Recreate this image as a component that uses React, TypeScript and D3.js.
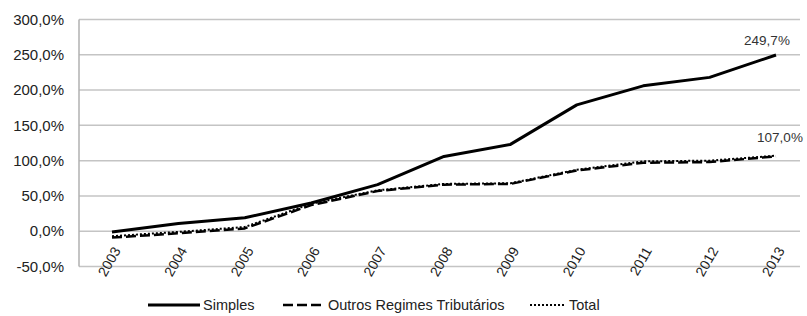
import * as d3 from "d3";

const years = ["2003", "2004", "2005", "2006", "2007", "2008", "2009", "2010", "2011", "2012", "2013"];
const simples = [-1, 11, 19, 40, 66, 106, 123, 179, 206, 218, 249.7];
const outros = [-9, -3, 4, 37, 57, 66, 67, 86, 97, 98, 106];
const total = [-7, -1, 6, 39, 58, 67, 68, 87, 99, 100, 107];
const yTicks = [-50, 0, 50, 100, 150, 200, 250, 300];

const W = 807;
const H = 316;
const plot = { left: 79, right: 800, top: 19.5, bottom: 266.5, first: 112, last: 776 };
const font = "'Liberation Sans', Arial, sans-serif";

const fmt = (v: number) => v.toFixed(1).replace(".", ",") + "%";

export default function App() {
  const x = d3.scalePoint<string>().domain(years).range([plot.first, plot.last]);
  const y = d3.scaleLinear().domain([-50, 300]).range([plot.bottom, plot.top]);

  const line = d3
    .line<number>()
    .x((_, i) => x(years[i]) as number)
    .y((d) => y(d));

  const series = [
    { name: "Simples", data: simples, dash: "", width: 3 },
    { name: "Outros Regimes Tributários", data: outros, dash: "10,4", width: 2.5 },
    { name: "Total", data: total, dash: "2,2", width: 2 },
  ];

  const lastX = x(years[years.length - 1]) as number;

  const legend = [
    { ...series[0], lx: 148, tx: 203, len: 52 },
    { ...series[1], lx: 283, tx: 328, len: 42 },
    { ...series[2], lx: 530, tx: 569, len: 35 },
  ];

  return (
    <svg width={W} height={H} style={{ position: "absolute", left: 0, top: 0, background: "#fff" }}>
      {/* grid */}
      {yTicks.map((t) => (
        <g key={t}>
          <line x1={plot.left} x2={plot.right} y1={y(t)} y2={y(t)} stroke="#c4c4c4" strokeWidth={1.5} />
          <text x={plot.left - 15} y={y(t)} dy="0.35em" textAnchor="end" fontFamily={font} fontSize={15} fill="#222">
            {fmt(t)}
          </text>
        </g>
      ))}
      <line x1={plot.left} x2={plot.left} y1={y(300)} y2={y(-50)} stroke="#b0b0b0" strokeWidth={1.5} />

      {/* x labels */}
      {years.map((yr) => {
        const cx = (x(yr) as number) + 5;
        const cy = 248;
        return (
          <text
            key={yr}
            transform={`translate(${cx},${cy}) rotate(-60)`}
            textAnchor="end"
            dy="0.35em"
            fontFamily={font}
            fontSize={14}
            fill="#222"
          >
            {yr}
          </text>
        );
      })}

      {/* lines */}
      {series.map((s) => (
        <path
          key={s.name}
          d={line(s.data) as string}
          fill="none"
          stroke="#000"
          strokeWidth={s.width}
          strokeDasharray={s.dash}
          strokeLinejoin="round"
        />
      ))}

      {/* data labels */}
      <text x={lastX - 9} y={40} dy="0.35em" textAnchor="middle" fontFamily={font} fontSize={13.5} fill="#333">
        {fmt(249.7)}
      </text>
      <text x={lastX + 4} y={137} dy="0.35em" textAnchor="middle" fontFamily={font} fontSize={13.5} fill="#333">
        {fmt(107)}
      </text>

      {/* legend */}
      {legend.map((l) => (
        <g key={l.name}>
          <line
            x1={l.lx}
            x2={l.lx + l.len}
            y1={305}
            y2={305}
            stroke="#000"
            strokeWidth={l.width}
            strokeDasharray={l.dash}
          />
          <text x={l.tx} y={305} dy="0.35em" fontFamily={font} fontSize={14.5} fill="#222">
            {l.name}
          </text>
        </g>
      ))}
    </svg>
  );
}
